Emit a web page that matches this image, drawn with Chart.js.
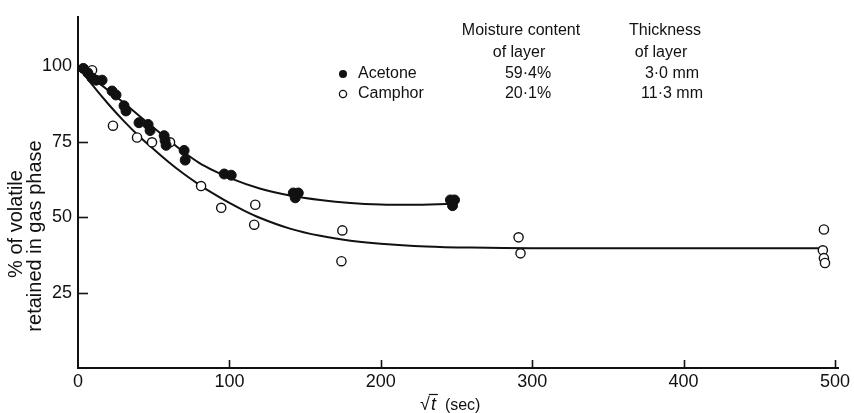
<!DOCTYPE html>
<html><head><meta charset="utf-8">
<script src="https://cdn.jsdelivr.net/npm/chart.js@4.4.1/dist/chart.umd.min.js"></script>
<style>html,body{margin:0;padding:0;background:#fff}#wrap{width:854px;height:413px}</style>
</head><body><div id="wrap"><canvas id="c" width="854" height="413"></canvas></div>
<script>
// ---- data ----
const xTicks = [0, 100, 200, 300, 400, 500];
const yTicks = [25, 50, 75, 100];

const acetoneX = [3.5, 6.5, 9.3, 11.9, 15.9, 22.5, 25.1, 30.4, 31.7, 40.3, 46.3, 47.6, 56.9, 57.5, 58.2, 70.1, 70.8, 96.6, 101.2, 142.2, 145.5, 143.5, 246, 248.7, 247.4];
const acetoneY = [99.3, 97.8, 96.1, 95.4, 95.4, 91.8, 90.5, 86.9, 85.2, 81.3, 80.7, 78.7, 77.0, 75.4, 73.8, 72.1, 68.9, 64.3, 63.9, 58.0, 58.0, 56.4, 55.7, 55.7, 53.8];

const camphorX = [9.3, 23.1, 39.0, 48.9, 60.8, 81.3, 94.6, 117.1, 116.4, 174.6, 174.0, 291.0, 292.3, 492.7, 492.0, 492.7, 493.4];
const camphorY = [98.7, 80.3, 76.4, 74.8, 74.8, 60.3, 53.1, 54.1, 47.5, 45.6, 35.4, 43.3, 38.0, 45.9, 39.0, 36.4, 34.8];

const acetoneFitX = [0, 10, 20, 30, 40, 50, 60, 70, 80, 90, 100, 120, 140, 160, 180, 200, 220, 247];
const acetoneFitY = [100, 96, 92, 88, 83.8, 79.6, 75.5, 71.5, 68, 65.3, 63, 59.5, 57.2, 55.7, 54.7, 54.2, 54.1, 54.4];

const camphorFitX = [0, 10, 20, 30, 40, 50, 60, 70, 80, 90, 100, 110, 120, 140, 160, 180, 200, 230, 260, 300, 400, 492];
const camphorFitY = [100, 93.5, 87.5, 82, 77, 72.5, 68.2, 64.3, 60.8, 57.6, 54.7, 52.1, 49.8, 46.2, 43.8, 42.2, 41.2, 40.3, 39.9, 39.7, 39.7, 39.7];

const legendHeader1 = ['Moisture content', 'Thickness'];
const legendHeader2 = ['of layer', 'of layer'];
const legendRows = [
  ['Acetone', '59·4%', '3·0 mm'],
  ['Camphor', '20·1%', '11·3 mm']
];
const yTitle = ['% of volatile', 'retained in gas phase'];

const pts = (xs, ys) => xs.map((x, i) => ({x: x, y: ys[i]}));
const FONT = '"Liberation Sans", Arial, sans-serif';
const INK = '#111';

const decor = {
  id: 'decor',
  beforeDatasetsDraw(chart) {
    const {ctx, scales: {x, y}, chartArea: a} = chart;
    ctx.save();
    ctx.strokeStyle = INK; ctx.lineWidth = 1.6;
    xTicks.forEach(v => {
      if (v === 0) return;
      const px = Math.round(x.getPixelForValue(v)) + 0.5;
      ctx.beginPath(); ctx.moveTo(px, a.bottom); ctx.lineTo(px, a.bottom - 8); ctx.stroke();
    });
    yTicks.forEach(v => {
      const py = Math.round(y.getPixelForValue(v)) + 0.5;
      ctx.beginPath(); ctx.moveTo(a.left, py); ctx.lineTo(a.left + 10, py); ctx.stroke();
    });
    ctx.restore();
  },
  afterDraw(chart) {
    const {ctx} = chart;
    ctx.save();
    ctx.fillStyle = INK;
    // y title
    ctx.font = '20px ' + FONT;
    ctx.textAlign = 'center'; ctx.textBaseline = 'middle';
    [[16, 224], [35, 236]].forEach((p, i) => {
      ctx.save(); ctx.translate(p[0], p[1]); ctx.rotate(-Math.PI / 2);
      ctx.fillText(yTitle[i], 0, 0); ctx.restore();
    });
    // x title: sqrt t (sec)
    ctx.textAlign = 'left'; ctx.textBaseline = 'alphabetic';
    ctx.font = '18px ' + FONT;
    let xx = 420, by = 410;
    ctx.fillText('√', xx, by);
    xx += ctx.measureText('√').width;
    ctx.font = 'italic 18px ' + FONT;
    const tw = ctx.measureText('t').width;
    ctx.fillText('t', xx + 1, by);
    ctx.strokeStyle = INK; ctx.lineWidth = 1.2;
    ctx.beginPath(); ctx.moveTo(xx - 1, by - 15.5); ctx.lineTo(xx + tw + 3, by - 15.5); ctx.stroke();
    ctx.font = '16px ' + FONT;
    ctx.fillText('(sec)', xx + tw + 10, by);
    // legend table
    ctx.font = '16px ' + FONT;
    ctx.textBaseline = 'middle';
    ctx.textAlign = 'center';
    ctx.fillText(legendHeader1[0], 521, 31);
    ctx.fillText(legendHeader1[1], 665, 31);
    ctx.fillText(legendHeader2[0], 519, 53);
    ctx.fillText(legendHeader2[1], 661, 53);
    const rowY = [74, 94];
    legendRows.forEach((r, i) => {
      ctx.textAlign = 'left';
      ctx.fillText(r[0], 358, rowY[i]);
      ctx.textAlign = 'center';
      ctx.fillText(r[1], 528, rowY[i]);
      ctx.fillText(r[2], 672, rowY[i]);
    });
    ctx.beginPath(); ctx.arc(343, rowY[0], 4, 0, Math.PI * 2); ctx.fill();
    ctx.lineWidth = 1.3;
    ctx.beginPath(); ctx.arc(343, rowY[1], 3.6, 0, Math.PI * 2); ctx.stroke();
    ctx.restore();
  }
};

new Chart(document.getElementById('c'), {
  type: 'scatter',
  data: {
    datasets: [
      {label: 'Acetone', data: pts(acetoneX, acetoneY), pointRadius: 5, pointBackgroundColor: INK, pointBorderColor: INK, pointBorderWidth: 1, showLine: false, clip: false},
      {label: 'Camphor', data: pts(camphorX, camphorY), pointRadius: 4.6, pointBackgroundColor: '#fff', pointBorderColor: INK, pointBorderWidth: 1.4, showLine: false, clip: false},
      {label: 'Acetone fit', data: pts(acetoneFitX, acetoneFitY), showLine: true, pointRadius: 0, borderColor: INK, borderWidth: 2, cubicInterpolationMode: 'monotone', clip: false},
      {label: 'Camphor fit', data: pts(camphorFitX, camphorFitY), showLine: true, pointRadius: 0, borderColor: INK, borderWidth: 2, cubicInterpolationMode: 'monotone', clip: false}
    ]
  },
  options: {
    responsive: false,
    animation: false,
    events: [],
    layout: {padding: {left: 0, right: 16, top: 13, bottom: 0}},
    plugins: {legend: {display: false}, tooltip: {enabled: false}},
    scales: {
      x: {
        type: 'linear', min: 0, max: 502,
        afterFit(s) { s.height = 45; },
        afterBuildTicks(s) { s.ticks = xTicks.map(v => ({value: v})); },
        ticks: {font: {family: FONT, size: 18}, color: INK, padding: 3, maxRotation: 0, autoSkip: false},
        grid: {drawOnChartArea: false, drawTicks: false},
        border: {color: INK, width: 2}
      },
      y: {
        type: 'linear', min: 0, max: 116.4,
        afterFit(s) { s.width = 78; },
        afterBuildTicks(s) { s.ticks = yTicks.map(v => ({value: v})); },
        ticks: {font: {family: FONT, size: 18}, color: INK, padding: 6},
        grid: {drawOnChartArea: false, drawTicks: false},
        border: {color: INK, width: 2}
      }
    }
  },
  plugins: [decor]
});
</script>
</body></html>
